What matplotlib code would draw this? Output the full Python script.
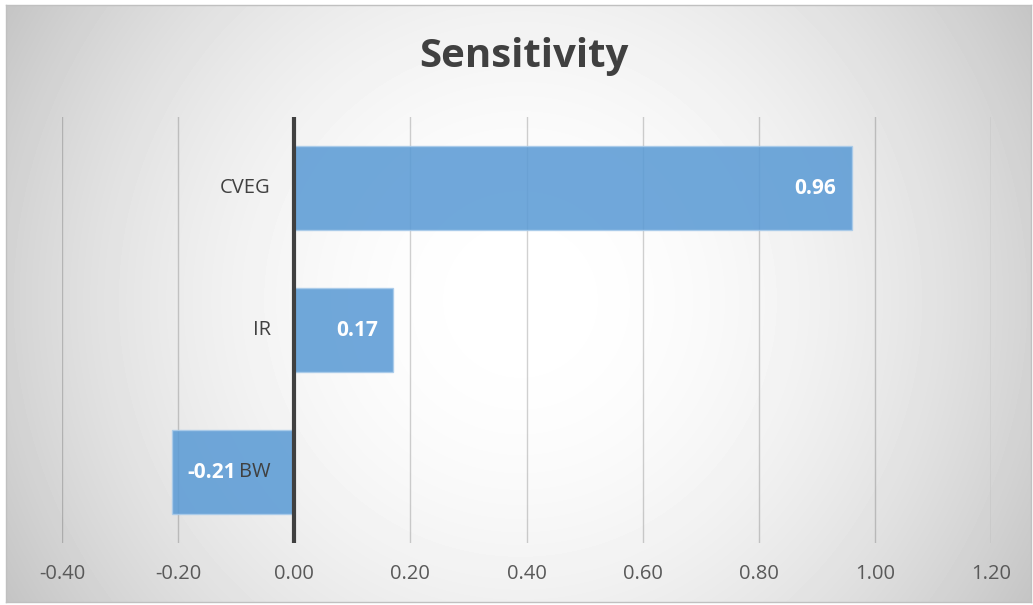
import numpy as np
import matplotlib.pyplot as plt

# sensitivity values per factor (bottom to top)
factors = ['BW', 'IR', 'CVEG']
values = [-0.21, 0.17, 0.96]
xticks = [-0.40, -0.20, 0.00, 0.20, 0.40, 0.60, 0.80, 1.00, 1.20]

plt.rcParams['font.family'] = ['Open Sans', 'DejaVu Sans']

W, H, DPI = 1033, 605, 100
fig = plt.figure(figsize=(W / DPI, H / DPI), dpi=DPI)
fig.patch.set_facecolor('white')

# radial grey-to-white backdrop of the chart area
bx0, by0, bx1, by1 = 6, 5, 1031, 602
bg = fig.add_axes([bx0 / W, 1 - by1 / H, (bx1 - bx0) / W, (by1 - by0) / H])
bg.set_zorder(0)
xx, yy = np.meshgrid(np.arange(bx0, bx1), np.arange(by0, by1))
d = np.hypot(xx - 520, yy - 300) / 593.0
shade = 1 - 0.23 * d ** 2
bg.imshow(shade, cmap='gray', vmin=0, vmax=1, aspect='auto', interpolation='bilinear')
bg.set_xticks([])
bg.set_yticks([])
for s in bg.spines.values():
    s.set_color('#c0c0c0')
    s.set_linewidth(1)

ax = fig.add_axes([62 / W, (H - 543) / H, (991 - 62) / W, 426 / H])
ax.set_zorder(1)
ax.patch.set_alpha(0)

y = np.arange(len(factors))
bars = ax.barh(y, values, height=0.59, color='#5B9BD5', alpha=0.87,
               edgecolor='#a9cbea', linewidth=1, zorder=2)

ax.set_xlim(-0.4, 1.2)
ax.set_ylim(-0.5, 2.5)
ax.set_xticks(xticks)
ax.set_xticklabels([f'{t:.2f}' for t in xticks])
ax.set_yticks([])
ax.tick_params(axis='x', length=0, pad=15, labelsize=14.5, labelcolor='#595959')
for s in ax.spines.values():
    s.set_visible(False)
ax.grid(axis='x', color='black', alpha=0.18, linewidth=1, zorder=1)
ax.axvline(0, color='#404040', linewidth=3, zorder=3)

# category names sit just left of the zero line
for yi, name in zip(y, factors):
    ax.annotate(name, xy=(0, yi), xytext=(-17, 0), textcoords='offset points',
                ha='right', va='center', fontsize=14.5, color='#404040', zorder=4)

# value labels inside the bar ends
for yi, v in zip(y, values):
    off = -11 if v > 0 else 11
    ax.annotate(f'{v:.2f}', xy=(v, yi), xytext=(off, 0), textcoords='offset points',
                ha='right' if v > 0 else 'left', va='center', fontsize=15,
                fontweight='bold', color='white', zorder=5)

fig.text(524 / W, 1 - 57 / H, 'Sensitivity', ha='center', va='center',
         fontsize=29, fontweight='bold', color='#404040')

fig.savefig('out.png', dpi=DPI)
